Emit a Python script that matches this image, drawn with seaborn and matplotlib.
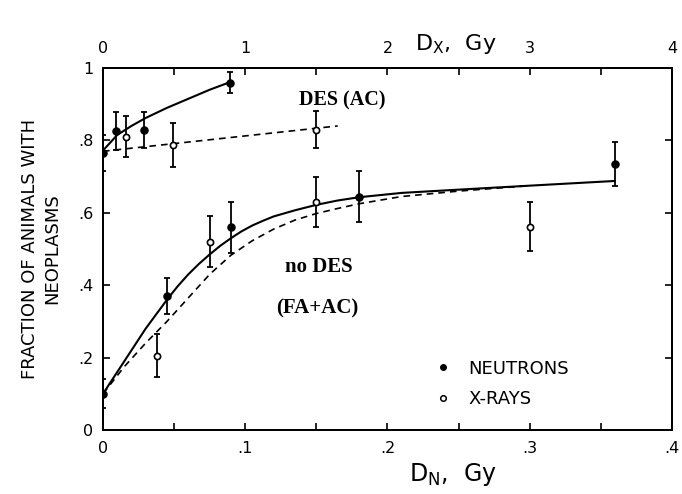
import numpy as np
import pandas as pd
import matplotlib
matplotlib.use("Agg")
import matplotlib.pyplot as plt
import seaborn as sns
from matplotlib.lines import Line2D
from matplotlib.ticker import MultipleLocator, FixedLocator

# ---------------- data (D_N in Gy; fraction with neoplasms) ----------------
# no DES (FA+AC)
nodes_neut_x = [0.0, 0.045, 0.09, 0.18, 0.36]
nodes_neut_y = [0.10, 0.37, 0.56, 0.645, 0.735]
nodes_neut_err = [0.04, 0.05, 0.07, 0.07, 0.06]

nodes_xray_x = [0.038, 0.075, 0.15, 0.30]
nodes_xray_y = [0.205, 0.52, 0.63, 0.562]
nodes_xray_err = [0.06, 0.07, 0.07, 0.068]

# DES (AC)
des_neut_x = [0.0, 0.009, 0.029, 0.089]
des_neut_y = [0.765, 0.826, 0.829, 0.96]
des_neut_err = [0.05, 0.053, 0.05, 0.03]

des_xray_x = [0.016, 0.0495, 0.15]
des_xray_y = [0.81, 0.787, 0.83]
des_xray_err = [0.057, 0.06, 0.05]

# fitted curves
des_neut_fit_x = [0.0, 0.01, 0.02, 0.03, 0.045, 0.06, 0.075, 0.09]
des_neut_fit_y = [0.772, 0.815, 0.84, 0.862, 0.89, 0.915, 0.94, 0.962]
des_xray_fit_x = [0.0, 0.165]
des_xray_fit_y = [0.77, 0.84]
nodes_neut_fit_x = [0.0, 0.015, 0.03, 0.045, 0.0525, 0.06, 0.0675, 0.075, 0.0825, 0.09,
                    0.0975, 0.105, 0.1125, 0.12, 0.135, 0.15, 0.165, 0.18, 0.21,
                    0.25, 0.30, 0.36]
nodes_neut_fit_y = [0.10, 0.19, 0.28, 0.36, 0.397, 0.43, 0.459, 0.485, 0.509, 0.53,
                    0.549, 0.565, 0.578, 0.59, 0.607, 0.622, 0.634, 0.643, 0.655,
                    0.664, 0.675, 0.688]
nodes_xray_fit_x = [0.0, 0.015, 0.03, 0.045, 0.06, 0.075, 0.09, 0.105, 0.12, 0.135,
                    0.15, 0.165, 0.18, 0.21, 0.25, 0.30]
nodes_xray_fit_y = [0.10, 0.175, 0.24, 0.30, 0.365, 0.43, 0.483, 0.523, 0.555, 0.58,
                    0.598, 0.612, 0.625, 0.645, 0.66, 0.675]

xtick_vals = [0, 0.1, 0.2, 0.3, 0.4]
xtick_labels = ["0", ".1", ".2", ".3", ".4"]
top_tick_vals = [0, 1, 2, 3, 4]
top_tick_labels = ["0", "1", "2", "3", "4"]
ytick_vals = [0, 0.2, 0.4, 0.6, 0.8, 1.0]
ytick_labels = ["0", ".2", ".4", ".6", ".8", "1"]

# ---------------- figure ----------------
sns.set_style("ticks")
plt.rcParams["font.family"] = ["DejaVu Sans"]
plt.rcParams["text.color"] = "black"
plt.rcParams["axes.labelcolor"] = "black"

fig = plt.figure(figsize=(6.82, 4.94), dpi=100)
ax = fig.add_axes([0.151, 0.1296, 0.8343, 0.7327])

def curve(x, y, ls, lw):
    df = pd.DataFrame({"x": x, "y": y})
    sns.lineplot(data=df, x="x", y="y", ax=ax, color="black", lw=lw,
                 linestyle=ls, sort=False, estimator=None)

curve(des_neut_fit_x, des_neut_fit_y, "-", 1.5)
curve(nodes_neut_fit_x, nodes_neut_fit_y, "-", 1.5)
curve(des_xray_fit_x, des_xray_fit_y, (0, (4, 3)), 1.2)
curve(nodes_xray_fit_x, nodes_xray_fit_y, (0, (4, 3)), 1.2)

def pts(x, y, e, filled):
    ax.errorbar(x, y, yerr=e, fmt="none", ecolor="black", elinewidth=1.3,
                capsize=2.5, capthick=1.3, zorder=3)
    df = pd.DataFrame({"x": x, "y": y})
    if filled:
        sns.scatterplot(data=df, x="x", y="y", ax=ax, color="black", s=28,
                        edgecolor="black", linewidth=0.8, zorder=4)
    else:
        sns.scatterplot(data=df, x="x", y="y", ax=ax, color="white", s=20,
                        edgecolor="black", linewidth=1.2, zorder=4)

pts(nodes_xray_x, nodes_xray_y, nodes_xray_err, False)
pts(des_xray_x, des_xray_y, des_xray_err, False)
pts(nodes_neut_x, nodes_neut_y, nodes_neut_err, True)
pts(des_neut_x, des_neut_y, des_neut_err, True)

ax.set_xlim(0, 0.4)
ax.set_ylim(0, 1.0)
ax.xaxis.set_major_locator(FixedLocator(xtick_vals))
ax.set_xticklabels(xtick_labels)
ax.xaxis.set_minor_locator(MultipleLocator(0.05))
ax.yaxis.set_major_locator(FixedLocator(ytick_vals))
ax.set_yticklabels(ytick_labels)

ax.tick_params(axis="both", which="both", direction="in", length=5, width=1.2,
               labelsize=11.5, colors="black", top=False, right=True)
ax.tick_params(axis="x", which="both", pad=8)
ax.tick_params(axis="y", which="both", pad=7)
for s in ax.spines.values():
    s.set_linewidth(1.4)
    s.set_color("black")

ax.set_xlabel("D$_\\mathregular{N}$,  Gy", fontsize=17, color="black")
ax.xaxis.set_label_coords(0.615, -0.085)
ax.set_ylabel("FRACTION OF ANIMALS WITH\nNEOPLASMS", fontsize=13,
              linespacing=1.3, labelpad=12, color="black")

top = ax.twiny()
top.set_xlim(0, 4)
top.xaxis.set_major_locator(FixedLocator(top_tick_vals))
top.set_xticklabels(top_tick_labels)
top.xaxis.set_minor_locator(MultipleLocator(0.5))
top.tick_params(axis="x", which="both", direction="in", length=5, width=1.2,
                labelsize=11.5, pad=9, colors="black")
top.set_xlabel("D$_\\mathregular{X}$,  Gy", fontsize=16, color="black")
for s in top.spines.values():
    s.set_linewidth(1.4)
    s.set_color("black")
top.xaxis.set_label_coords(0.62, 1.05)

serif = ["Liberation Serif", "DejaVu Serif"]
ax.text(0.138, 0.91, "DES (AC)", fontsize=14.5, fontweight="bold", family=serif,
        va="center", ha="left", color="black")
ax.text(0.128, 0.45, "no DES", fontsize=15, fontweight="bold", family=serif,
        va="center", ha="left", color="black")
ax.text(0.122, 0.337, "(FA+AC)", fontsize=15, fontweight="bold", family=serif,
        va="center", ha="left", color="black")

handles = [
    Line2D([], [], marker="o", linestyle="none", markersize=4,
           markerfacecolor="black", markeredgecolor="black", label="NEUTRONS"),
    Line2D([], [], marker="o", linestyle="none", markersize=4,
           markerfacecolor="white", markeredgecolor="black", markeredgewidth=1.1,
           label="X-RAYS"),
]
leg = ax.legend(handles=handles, loc="lower left", bbox_to_anchor=(0.572, 0.04),
                frameon=False, fontsize=13, handlelength=0.8, handletextpad=1.0,
                labelspacing=0.7, borderaxespad=0)
for t in leg.get_texts():
    t.set_color("black")

fig.savefig("out.png", dpi=100)
